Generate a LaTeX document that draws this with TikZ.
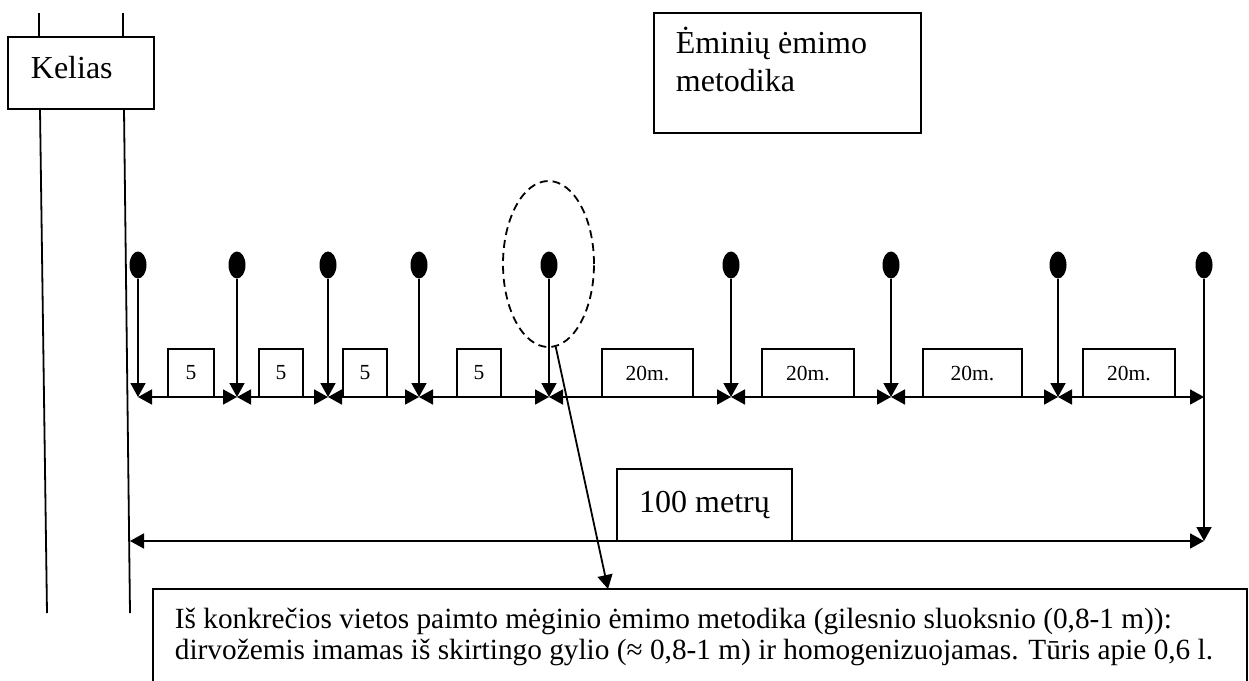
\documentclass[tikz,border=0pt]{standalone}
\usepackage{fontspec}
\setmainfont{Liberation Serif}
\usetikzlibrary{arrows.meta,shapes.geometric}

\begin{document}
\begin{tikzpicture}[x=1pt,y=-1pt,
  line width=1.8pt,
  tip/.style={-{Triangle[length=14pt,width=15pt]}},
  both/.style={{Triangle[length=14pt,width=15pt]}-{Triangle[length=14pt,width=15pt]}},
  frame/.style={draw, rectangle, inner sep=0pt},
  dot/.style={ellipse, fill=black, inner sep=0pt, minimum width=17pt, minimum height=27pt},
  big/.style={font=\fontsize{32}{38}\selectfont, inner sep=0pt},
  small/.style={font=\fontsize{21.5}{25}\selectfont},
  body/.style={font=\fontsize{29.3}{31}\selectfont, inner sep=0pt},
  zonestyle/.style={draw, ellipse, inner sep=0pt, dash pattern=on 8pt off 5pt,
                    minimum width=91pt, minimum height=166pt},
]
\useasboundingbox (0,0) rectangle (1249,680);
\fill[white] (0,0) rectangle (1249,680);
\clip (0,0) rectangle (1249,680);

% road edges and sign
\draw (39,13) -- (39,37);
\draw (123,13) -- (123,37);
\draw (40,109) -- (47,613);
\draw (124,109) -- (130,613);
\node[frame, minimum width=146pt, minimum height=72pt] (road) at (81,73) {};
\node[big, anchor=base west] (roadtext) at (30,78) {Kelias};

% title box
\node[frame, minimum width=267pt, minimum height=120pt] (title) at (787.5,73) {};
\node[big, anchor=base west] (title1) at (675,53) {Ėminių ėmimo};
\node[big, anchor=base west] (title2) at (675,91) {metodika};

% sampling points
\foreach \i/\x in {1/138,2/237,3/328,4/419,5/549,6/731,7/891,8/1058,9/1204} {
  \node[dot] (d\i) at (\x,265) {};
  \coordinate (b\i) at (\x,397);
}
\foreach \i in {1,...,8} {
  \draw[tip] (d\i.south) -- (b\i);
}
\foreach \i/\j in {1/2,2/3,3/4,4/5,5/6,6/7,7/8,8/9} {
  \draw[both] (b\i) -- (b\j);
}

% distance labels
\node[frame, small, minimum width=46pt, minimum height=48pt] (s1) at (191,373) {5};
\node[frame, small, minimum width=44pt, minimum height=48pt] (s2) at (281,373) {5};
\node[frame, small, minimum width=44pt, minimum height=48pt] (s3) at (365,373) {5};
\node[frame, small, minimum width=44pt, minimum height=48pt] (s4) at (479,373) {5};
\node[frame, small, minimum width=91pt, minimum height=48pt] (m1) at (647.5,373) {20m.};
\node[frame, small, minimum width=92pt, minimum height=48pt] (m2) at (808,373) {20m.};
\node[frame, small, minimum width=99pt, minimum height=48pt] (m3) at (972.5,373) {20m.};
\node[frame, small, minimum width=92pt, minimum height=48pt] (m4) at (1129,373) {20m.};

% total length
\coordinate (e0) at (130,541);
\coordinate (e9) at (1204,541);
\draw[tip] (d9.south) -- (e9);
\draw[both] (e0) -- (e9);
\node[frame, big, inner sep=0pt, minimum width=175pt, minimum height=72pt] (total) at (704.5,505) {100 metrų};

% highlighted sampling point and its description
\node[zonestyle] (zone) at (548.5,264) {};
\node[frame, minimum width=1094pt, minimum height=121pt] (note) at (700,649.5) {};
\coordinate (hit) at (608,589);
\draw[tip] (zone.-85) -- (hit);
\node[body, anchor=base west] (note1) at (174,628)
  {Iš konkrečios vietos paimto mėginio ėmimo metodika (gilesnio sluoksnio (0,8-1 m)):};
\node[body, anchor=base west] (note2) at (174,659)
  {dirvožemis imamas iš skirtingo gylio (≈ 0,8-1 m) ir homogenizuojamas. Tūris apie 0,6 l.};
\end{tikzpicture}
\end{document}
